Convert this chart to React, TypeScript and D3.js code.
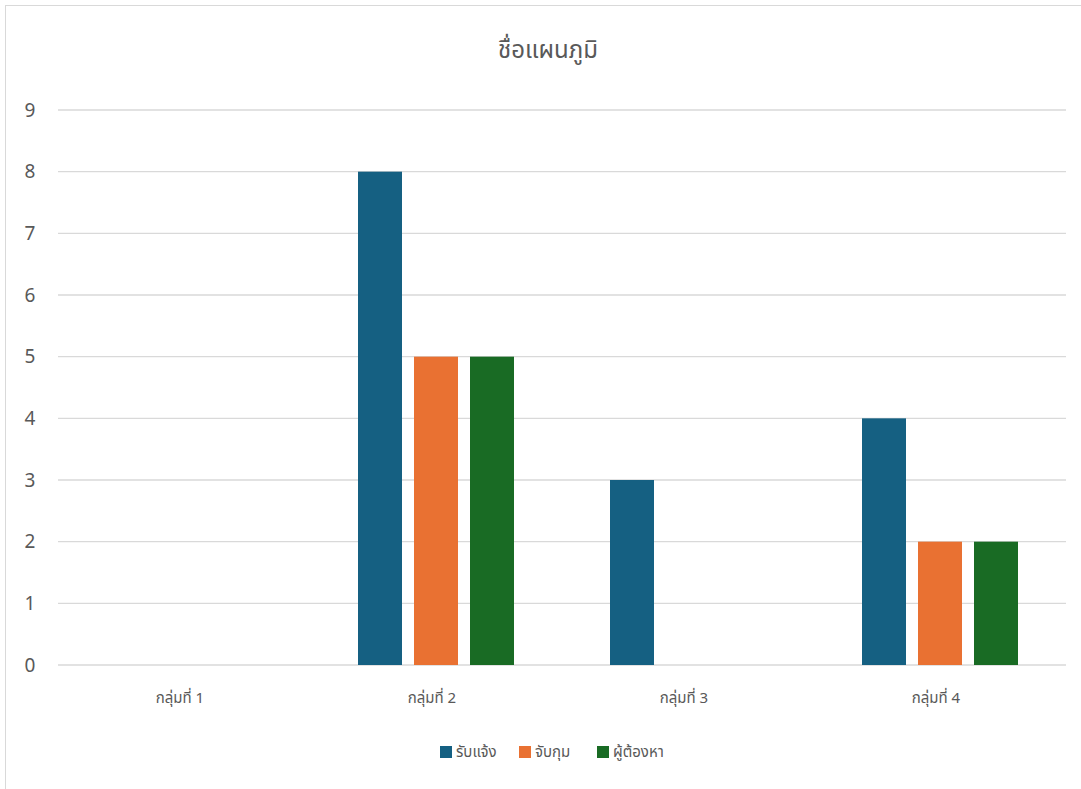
import React from "react";
import * as d3 from "d3";

const categories = ["กลุ่มที่ 1", "กลุ่มที่ 2", "กลุ่มที่ 3", "กลุ่มที่ 4"];
const seriesNames = ["รับแจ้ง", "จับกุม", "ผู้ต้องหา"];
const seriesColors = ["#156082", "#E97132", "#196B24"];
const receivedValues = [0, 8, 3, 4];
const arrestedValues = [0, 5, 0, 2];
const suspectValues = [0, 5, 0, 2];
const yTicks = [0, 1, 2, 3, 4, 5, 6, 7, 8, 9];
const titleText = "ชื่อแผนภูมิ";

const W = 1081;
const H = 789;
const FONT = "'Noto Sans Thai', 'Noto Sans', 'DejaVu Sans', sans-serif";
const TXT = "#595959";

export default function App() {
  const series = [receivedValues, arrestedValues, suspectValues];
  const x0 = d3.scaleBand<string>().domain(categories).range([58, 1066]).padding(0);
  const groupW = 156;
  const x1 = d3
    .scaleBand<string>()
    .domain(seriesNames)
    .range([0, groupW])
    .paddingInner(12 / 56)
    .paddingOuter(0);
  const y = d3.scaleLinear().domain([0, 9]).range([665, 110]);
  const off = (x0.bandwidth() - groupW) / 2;

  const legendItems = [
    { x: 440, tx: 456 },
    { x: 519, tx: 535 },
    { x: 597, tx: 613 },
  ];

  return (
    <svg
      width={W}
      height={H}
      style={{ position: "absolute", left: 0, top: 0, background: "#fff" }}
    >
      <rect x={5.5} y={5.5} width={1100} height={800} fill="#fff" stroke="#D9D9D9" strokeWidth={1} />
      <text x={548} y={58} textAnchor="middle" fontFamily={FONT} fontSize={24} fill={TXT}>
        {titleText}
      </text>
      {yTicks.map((t) => (
        <g key={t}>
          <line x1={58} x2={1066} y1={y(t)} y2={y(t)} stroke={t === 0 ? "#D9D9D9" : "#D9D9D9"} strokeWidth={t === 0 ? 1.5 : 1.3} />
          <text x={30} y={y(t)} dy="0.35em" textAnchor="middle" fontFamily={FONT} fontSize={19} fill={TXT}>
            {t}
          </text>
        </g>
      ))}
      {categories.map((c, ci) => (
        <g key={c}>
          {seriesNames.map((s, si) => {
            const v = series[si][ci];
            if (!v) return null;
            return (
              <rect
                key={s}
                x={(x0(c) as number) + off + (x1(s) as number)}
                y={y(v)}
                width={x1.bandwidth()}
                height={y(0) - y(v)}
                fill={seriesColors[si]}
              />
            );
          })}
          <text
            x={(x0(c) as number) + x0.bandwidth() / 2 - 4}
            y={698}
            dy="0.35em"
            textAnchor="middle"
            fontFamily={FONT}
            fontSize={15}
            fill={TXT}
          >
            {c}
          </text>
        </g>
      ))}
      {seriesNames.map((s, i) => (
        <g key={s}>
          <rect x={legendItems[i].x} y={746} width={12} height={12} fill={seriesColors[i]} />
          <text x={legendItems[i].tx} y={752} dy="0.35em" fontFamily={FONT} fontSize={15} fill={TXT}>
            {s}
          </text>
        </g>
      ))}
    </svg>
  );
}
